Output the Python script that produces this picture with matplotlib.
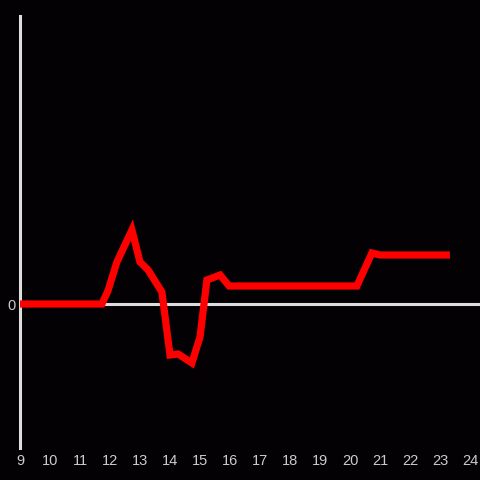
import matplotlib
matplotlib.use("Agg")
import matplotlib.pyplot as plt

hours = [9, 10, 11, 11.73, 11.93, 12.23, 12.73, 13.0, 13.27, 13.73, 14.0, 14.27,
         14.73, 15.0, 15.23, 15.67, 15.97, 17, 18, 19, 20.23, 20.73, 21.0, 22, 23.33]
values = [0, 0, 0, 0, 1.3, 4.2, 7.4, 4.2, 3.4, 1.2, -5.1, -5.0,
          -5.9, -3.3, 2.4, 2.9, 1.8, 1.8, 1.8, 1.8, 1.8, 5.1, 4.9, 4.9, 4.9]
xticks = list(range(9, 25))
yticks = [0]

bg = "#030104"
fig = plt.figure(figsize=(4.8, 4.8), dpi=100, facecolor=bg)
ax = fig.add_axes([20/480, 32/480, 460/480, 432/480], facecolor=bg)
ax.set_xlim(9, 9 + 460/30)
ax.set_ylim(-14.4, 28.8)

for s in ax.spines.values():
    s.set_visible(False)
ax.spines["left"].set_visible(True)
ax.spines["left"].set_color("#dddddd")
ax.spines["left"].set_linewidth(2.2)
ax.axhline(0, color="#dddddd", lw=2.2, zorder=1)

ax.plot(hours, values, color="#ff0000", lw=5.2, solid_joinstyle="miter", solid_capstyle="butt", zorder=3)

ax.set_xticks(xticks)
ax.set_xticklabels([str(t) for t in xticks])
ax.set_yticks(yticks)
ax.set_yticklabels(["0"])
ax.tick_params(axis="both", length=0, colors="#cccccc", labelsize=10.5)
ax.tick_params(axis="x", pad=4)
ax.tick_params(axis="y", pad=3)
for lab in ax.get_xticklabels() + ax.get_yticklabels():
    lab.set_fontfamily("Liberation Sans")

fig.savefig("out.png", dpi=100, facecolor=bg)
